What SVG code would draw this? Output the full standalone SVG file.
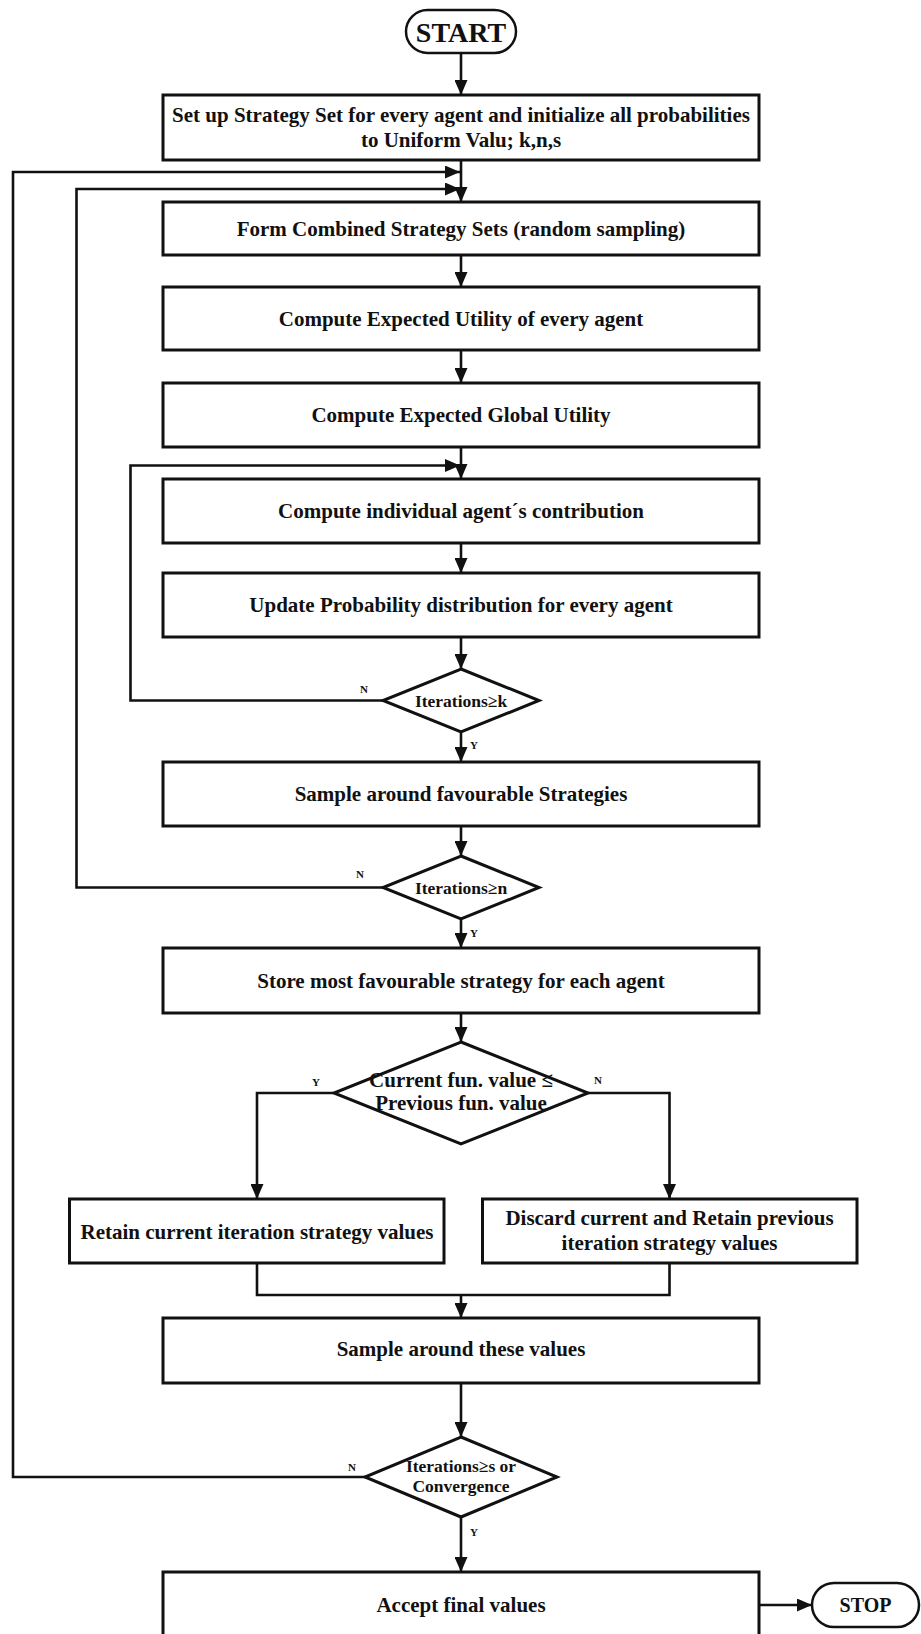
<svg xmlns="http://www.w3.org/2000/svg" width="921" height="1634" viewBox="0 0 921 1634">
<style>
.box{fill:#fff;stroke:#111;stroke-width:3}
.term{fill:#fff;stroke:#111;stroke-width:2.5}
.dia{fill:#fff;stroke:#111;stroke-width:3;stroke-linejoin:miter}
.ln{fill:none;stroke:#111;stroke-width:2.6}
text{font-family:"Liberation Serif","Times New Roman",serif;font-weight:bold;fill:#111;text-anchor:middle}
.t{font-size:21px}
.d{font-size:17.5px}
.lab{font-size:11px}
</style>
<defs>
<marker id="ah" markerUnits="userSpaceOnUse" markerWidth="15" markerHeight="13" refX="15" refY="6.5" orient="auto">
<path d="M0,0 L15,6.5 L0,13 z" fill="#111"/>
</marker>
</defs>

<g id="connectors">
<line class="ln" x1="461" y1="53" x2="461" y2="95" marker-end="url(#ah)"/>
<line class="ln" x1="461" y1="160" x2="461" y2="202" marker-end="url(#ah)"/>
<polyline class="ln" points="366,1477 13,1477 13,172 460,172" marker-end="url(#ah)"/>
<polyline class="ln" points="383,887.5 76.5,887.5 76.5,189 460,189" marker-end="url(#ah)"/>
<line class="ln" x1="461" y1="255" x2="461" y2="287" marker-end="url(#ah)"/>
<line class="ln" x1="461" y1="350" x2="461" y2="383" marker-end="url(#ah)"/>
<line class="ln" x1="461" y1="447" x2="461" y2="479" marker-end="url(#ah)"/>
<polyline class="ln" points="383,700.5 130.5,700.5 130.5,465.5 460,465.5" marker-end="url(#ah)"/>
<line class="ln" x1="461" y1="543" x2="461" y2="573" marker-end="url(#ah)"/>
<line class="ln" x1="461" y1="637" x2="461" y2="669" marker-end="url(#ah)"/>
<line class="ln" x1="461" y1="732" x2="461" y2="762" marker-end="url(#ah)"/>
<line class="ln" x1="461" y1="826" x2="461" y2="856" marker-end="url(#ah)"/>
<line class="ln" x1="461" y1="919" x2="461" y2="948" marker-end="url(#ah)"/>
<line class="ln" x1="461" y1="1013" x2="461" y2="1042" marker-end="url(#ah)"/>
<polyline class="ln" points="334,1093 257,1093 257,1199" marker-end="url(#ah)"/>
<polyline class="ln" points="588,1093 669.5,1093 669.5,1199" marker-end="url(#ah)"/>
<polyline class="ln" points="257,1263 257,1295 669.5,1295 669.5,1263"/>
<line class="ln" x1="461" y1="1295" x2="461" y2="1318" marker-end="url(#ah)"/>
<line class="ln" x1="461" y1="1383" x2="461" y2="1437" marker-end="url(#ah)"/>
<line class="ln" x1="461" y1="1517" x2="461" y2="1572" marker-end="url(#ah)"/>
<line class="ln" x1="759" y1="1605" x2="812" y2="1605" marker-end="url(#ah)"/>
</g>

<g id="start">
<rect class="term" x="406" y="10" width="110" height="43" rx="21.5"/>
<text x="461" y="42" style="font-size:28px">START</text>
</g>

<g id="setup">
<rect class="box" x="163" y="95" width="596" height="65"/>
<text class="t" x="461" y="121.5">Set up Strategy Set for every agent and initialize all probabilities</text>
<text class="t" x="461" y="147">to Uniform Valu; k,n,s</text>
</g>

<g id="form">
<rect class="box" x="163" y="202" width="596" height="53"/>
<text class="t" x="461" y="235.5">Form Combined Strategy Sets (random sampling)</text>
</g>

<g id="expected-utility">
<rect class="box" x="163" y="287" width="596" height="63"/>
<text class="t" x="461" y="325.5">Compute Expected Utility of every agent</text>
</g>

<g id="global-utility">
<rect class="box" x="163" y="383" width="596" height="64"/>
<text class="t" x="461" y="422">Compute Expected Global Utility</text>
</g>

<g id="individual">
<rect class="box" x="163" y="479" width="596" height="64"/>
<text class="t" x="461" y="518">Compute individual agent´s contribution</text>
</g>

<g id="update">
<rect class="box" x="163" y="573" width="596" height="64"/>
<text class="t" x="461" y="612">Update Probability distribution for every agent</text>
</g>

<g id="dec-k">
<polygon class="dia" points="461,669 539,700.5 461,732 383,700.5"/>
<text class="d" x="461" y="706.5">Iterations≥k</text>
<text class="lab" x="364" y="693">N</text>
<text class="lab" x="474" y="749">Y</text>
</g>

<g id="sample-fav">
<rect class="box" x="163" y="762" width="596" height="64"/>
<text class="t" x="461" y="801">Sample around favourable Strategies</text>
</g>

<g id="dec-n">
<polygon class="dia" points="461,856 539,887.5 461,919 383,887.5"/>
<text class="d" x="461" y="893.5">Iterations≥n</text>
<text class="lab" x="360" y="878">N</text>
<text class="lab" x="474" y="937">Y</text>
</g>

<g id="store">
<rect class="box" x="163" y="948" width="596" height="65"/>
<text class="t" x="461" y="987.5">Store most favourable strategy for each agent</text>
</g>

<g id="dec-current">
<polygon class="dia" points="461,1042 588,1093 461,1144 334,1093"/>
<text class="t" x="461" y="1087">Current fun. value ≤</text>
<text class="t" x="461" y="1110">Previous fun. value</text>
<text class="lab" x="316" y="1086">Y</text>
<text class="lab" x="598" y="1084">N</text>
</g>

<g id="retain">
<rect class="box" x="69.5" y="1199" width="374.5" height="64"/>
<text class="t" x="257" y="1238.5">Retain current iteration strategy values</text>
</g>

<g id="discard">
<rect class="box" x="482.5" y="1199" width="374.5" height="64"/>
<text class="t" x="669.5" y="1225">Discard current and Retain previous</text>
<text class="t" x="669.5" y="1250">iteration strategy values</text>
</g>

<g id="sample-these">
<rect class="box" x="163" y="1318" width="596" height="65"/>
<text class="t" x="461" y="1356">Sample around these values</text>
</g>

<g id="dec-s">
<polygon class="dia" points="461,1437 557,1477 461,1517 365,1477"/>
<text class="d" x="461" y="1471.5">Iterations≥s or</text>
<text class="d" x="461" y="1491.5">Convergence</text>
<text class="lab" x="352" y="1471">N</text>
<text class="lab" x="474" y="1536">Y</text>
</g>

<g id="accept">
<rect class="box" x="163" y="1572" width="596" height="70"/>
<text class="t" x="461" y="1612">Accept final values</text>
</g>

<g id="stop">
<rect class="term" x="812" y="1583" width="107" height="44" rx="22"/>
<text x="865.5" y="1612" style="font-size:20px">STOP</text>
</g>
</svg>
